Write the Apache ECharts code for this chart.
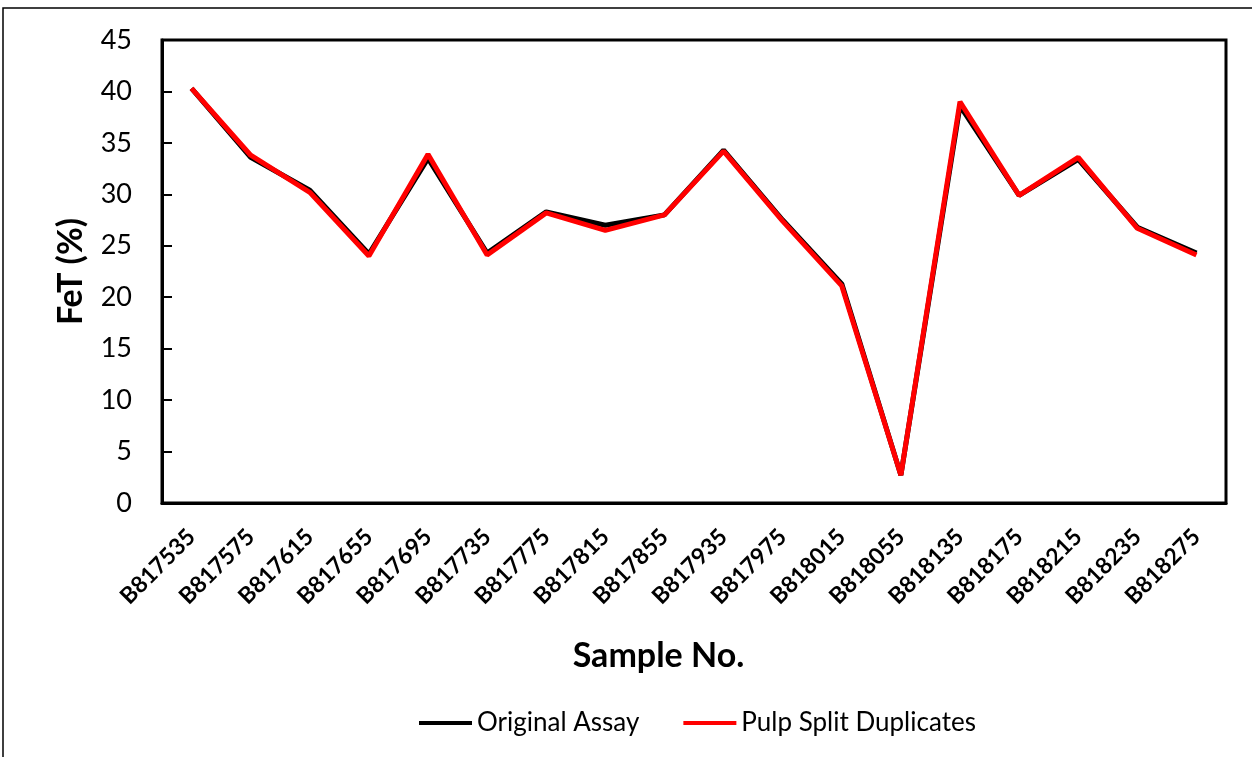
<!DOCTYPE html>
<html>
<head>
<meta charset="utf-8">
<script src="https://cdn.jsdelivr.net/npm/echarts@6/dist/echarts.min.js"></script>
<style>
  html, body { margin: 0; padding: 0; background: #fff; }
  #chart { width: 1252px; height: 757px; }
</style>
</head>
<body>
<div id="chart"></div>
<script>
// sample numbers along the x axis
const samples = ['B817535', 'B817575', 'B817615', 'B817655', 'B817695', 'B817735',
  'B817775', 'B817815', 'B817855', 'B817935', 'B817975', 'B818015',
  'B818055', 'B818135', 'B818175', 'B818215', 'B818235', 'B818275'];

// FeT (%) values
const originalAssay = [40.3, 33.6, 30.4, 24.2, 33.5, 24.3, 28.3, 27.0, 28.0, 34.3, 27.5, 21.3,
  2.7, 38.6, 29.9, 33.4, 26.8, 24.3];
const pulpDuplicates = [40.3, 33.8, 30.2, 24.0, 33.9, 24.1, 28.2, 26.5, 28.0, 34.2, 27.4, 21.1,
  2.7, 39.0, 29.9, 33.6, 26.7, 24.1];

const font = 'Lato, "Open Sans", sans-serif';

const chart = echarts.init(document.getElementById('chart'), null, { renderer: 'canvas' });

chart.setOption({
  animation: false,
  backgroundColor: '#fff',
  textStyle: { fontFamily: font, color: '#000' },
  graphic: [{
    type: 'rect',
    shape: { x: 3, y: 8, width: 1300, height: 800 },
    style: { fill: 'none', stroke: '#000', lineWidth: 1.5 },
    silent: true
  }],
  grid: {
    left: 162, top: 40, right: 26, bottom: 254,
    show: true, borderColor: '#000', borderWidth: 3, backgroundColor: 'transparent'
  },
  legend: {
    top: 705,
    left: 414,
    itemGap: 44,
    itemWidth: 53,
    itemHeight: 4,
    icon: 'rect',
    textStyle: { fontFamily: font, fontSize: 26, color: '#000' },
    data: ['Original Assay', 'Pulp Split Duplicates']
  },
  xAxis: {
    type: 'category',
    data: samples,
    boundaryGap: true,
    name: 'Sample No.',
    nameLocation: 'middle',
    nameGap: 136,
    nameTextStyle: { fontFamily: font, fontSize: 34, fontWeight: 'bold', color: '#000', padding: [0, 71, 0, 0] },
    axisLine: { lineStyle: { color: '#000', width: 3 } },
    axisTick: { inside: true, length: 10, lineStyle: { color: '#000', width: 2 } },
    axisLabel: { rotate: 45, margin: 30, fontFamily: font, fontSize: 23, fontWeight: 'bold', color: '#000', interval: 0 },
    splitLine: { show: false }
  },
  yAxis: {
    type: 'value',
    min: 0, max: 45, interval: 5,
    name: 'FeT (%)',
    nameLocation: 'middle',
    nameGap: 74,
    nameTextStyle: { fontFamily: font, fontSize: 34, fontWeight: 'bold', color: '#000' },
    axisLine: { show: true, lineStyle: { color: '#000', width: 3 } },
    axisTick: { show: true, inside: true, length: 10, lineStyle: { color: '#000', width: 2 } },
    axisLabel: { margin: 30, fontFamily: font, fontSize: 27, color: '#000' },
    splitLine: { show: false }
  },
  series: [
    {
      name: 'Original Assay',
      type: 'line',
      data: originalAssay,
      showSymbol: false,
      symbol: 'none',
      itemStyle: { color: '#000' },
      lineStyle: { color: '#000', width: 5 }
    },
    {
      name: 'Pulp Split Duplicates',
      type: 'line',
      data: pulpDuplicates,
      showSymbol: false,
      symbol: 'none',
      itemStyle: { color: '#ff0000' },
      lineStyle: { color: '#ff0000', width: 5 }
    }
  ]
});
</script>
</body>
</html>
